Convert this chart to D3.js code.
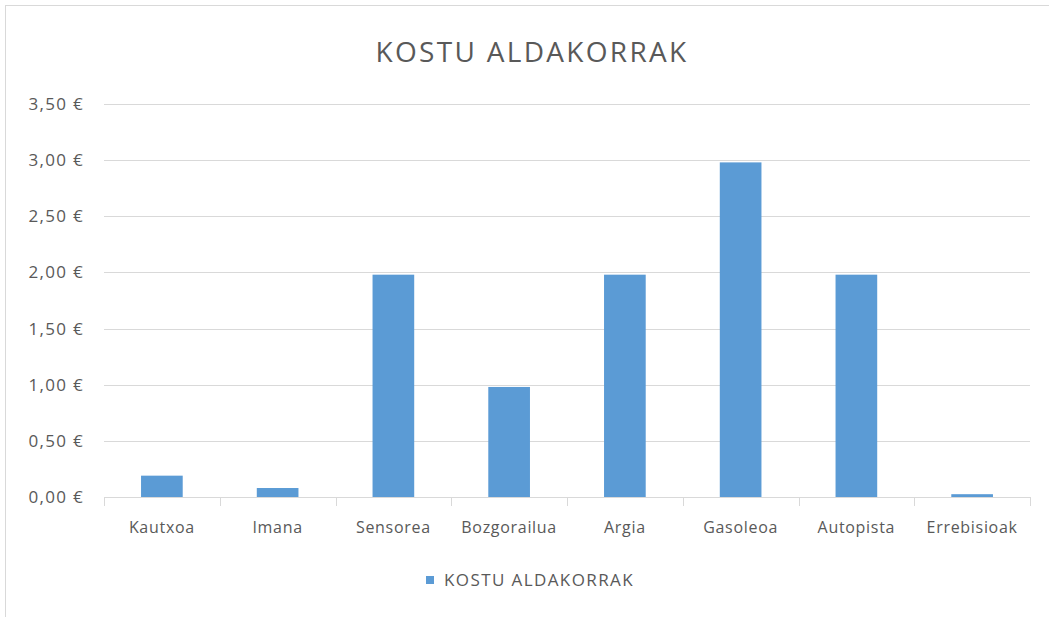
<!DOCTYPE html>
<meta charset="utf-8">
<style>

body {
  margin: 0;
  background: #fff;
}

text {
  font-family: "Open Sans", sans-serif;
  fill: #595959;
}

</style>
<body>
<script src="https://cdn.jsdelivr.net/npm/d3@7"></script>
<script>

var categories = ["Kautxoa", "Imana", "Sensorea", "Bozgorailua", "Argia", "Gasoleoa", "Autopista", "Errebisioak"],
    values = [0.19, 0.08, 1.98, 0.98, 1.98, 2.98, 1.98, 0.025],
    yTicks = [0, 0.5, 1, 1.5, 2, 2.5, 3, 3.5],
    title = "KOSTU ALDAKORRAK";

var w = 1049,
    h = 617,
    pLeft = 104,
    pRight = 1030,
    pTop = 104,
    pBottom = 497;

var svg = d3.select("body").append("svg")
    .attr("width", w)
    .attr("height", h);

// chart border
svg.append("rect")
    .attr("x", 5.5)
    .attr("y", 5.5)
    .attr("width", w + 10)
    .attr("height", h + 10)
    .style("fill", "#fff")
    .style("stroke", "#d9d9d9");

var x = d3.scaleBand()
    .domain(categories)
    .range([pLeft, pRight])
    .paddingInner(0.64)
    .paddingOuter(0.32);

var y = d3.scaleLinear()
    .domain([0, 3.5])
    .range([pBottom, pTop]);

var fmt = function(d) { return d3.format(".2f")(d).replace(".", ",") + " €"; };

// gridlines
svg.append("g")
  .selectAll("line")
    .data(yTicks.filter(function(d) { return d > 0; }))
  .enter().append("line")
    .attr("x1", pLeft)
    .attr("x2", pRight)
    .attr("y1", function(d) { return Math.round(y(d)) + 0.5; })
    .attr("y2", function(d) { return Math.round(y(d)) + 0.5; })
    .style("stroke", "#d9d9d9");

// y labels
svg.append("g")
  .selectAll("text")
    .data(yTicks)
  .enter().append("text")
    .attr("x", 84)
    .attr("y", function(d) { return y(d); })
    .attr("dy", "0.35em")
    .attr("text-anchor", "end")
    .style("font-size", "17px")
    .style("letter-spacing", "1.3px")
    .text(fmt);

// bars
svg.append("g")
  .selectAll("rect")
    .data(values)
  .enter().append("rect")
    .attr("x", function(d, i) { return x(categories[i]); })
    .attr("width", x.bandwidth())
    .attr("y", function(d) { return y(d); })
    .attr("height", function(d) { return y(0) - y(d); })
    .style("fill", "#5b9bd5");

// x axis line + ticks
var step = (pRight - pLeft) / categories.length;
svg.append("line")
    .attr("x1", pLeft)
    .attr("x2", pRight)
    .attr("y1", pBottom + 0.5)
    .attr("y2", pBottom + 0.5)
    .style("stroke", "#d9d9d9");

svg.append("g")
  .selectAll("line")
    .data(d3.range(categories.length + 1))
  .enter().append("line")
    .attr("x1", function(d) { return Math.round(pLeft + d * step) + 0.5; })
    .attr("x2", function(d) { return Math.round(pLeft + d * step) + 0.5; })
    .attr("y1", pBottom)
    .attr("y2", pBottom + 9)
    .style("stroke", "#d9d9d9");

svg.append("g")
  .selectAll("text")
    .data(categories)
  .enter().append("text")
    .attr("x", function(d) { return x(d) + x.bandwidth() / 2; })
    .attr("y", 527)
    .attr("dy", "0.35em")
    .attr("text-anchor", "middle")
    .style("font-size", "16px")
    .style("letter-spacing", "0.7px")
    .text(function(d) { return d; });

// title
svg.append("text")
    .attr("x", 532)
    .attr("y", 52)
    .attr("dy", "0.35em")
    .attr("text-anchor", "middle")
    .style("font-size", "28px")
    .style("letter-spacing", "2.3px")
    .text(title);

// legend
svg.append("rect")
    .attr("x", 426)
    .attr("y", 576)
    .attr("width", 8)
    .attr("height", 8)
    .style("fill", "#5b9bd5");

svg.append("text")
    .attr("x", 444)
    .attr("y", 580)
    .attr("dy", "0.35em")
    .style("font-size", "17px")
    .style("letter-spacing", "1.4px")
    .text(title);

</script>
